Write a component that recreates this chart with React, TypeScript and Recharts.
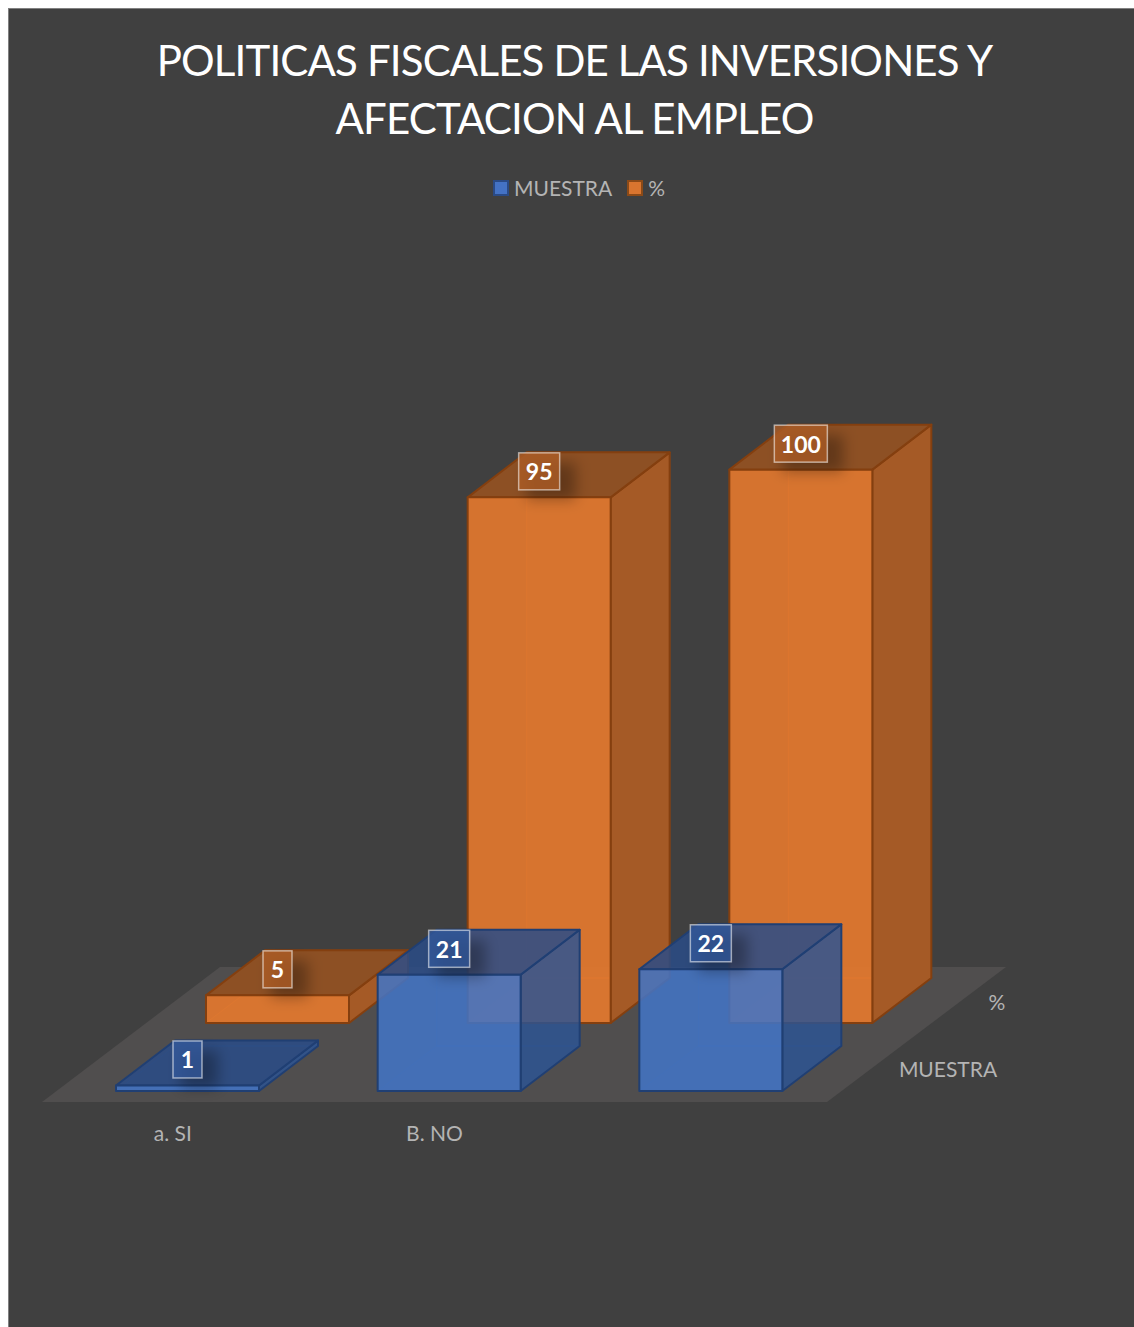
import { BarChart, Bar, XAxis, YAxis, Legend, LabelList, usePlotArea } from "recharts";

const categories = ["a. SI", "B. NO", ""];
const muestra = [1, 21, 22];
const porcentaje = [5, 95, 100];
const titleLines = ["POLITICAS FISCALES DE LAS INVERSIONES Y", "AFECTACION AL EMPLEO"];

const chartData = categories.map((name, i) => ({
  name,
  muestra: muestra[i],
  porcentaje: porcentaje[i],
}));

const WIDTH = 1126;
const HEIGHT = 1319;
const BG = "#404040";

const BAR_W = 143;
const DEPTH_X = 59;
const DEPTH_Y = 45;

// where each row of the 3D floor sits relative to the front edge
const ROW_FRONT = { dx: 15, dy: -11 };
const ROW_BACK = { dx: 105, dy: -79 };

const BLUE = {
  front: "rgba(66,116,198,0.86)",
  side: "rgba(44,84,148,0.82)",
  top: "rgba(42,76,136,0.84)",
  inner: "rgba(47,85,151,0.35)",
  stroke: "#203f73",
  legend: "#4472c4",
  legendStroke: "#2a4a85",
  label: "rgba(52,90,156,0.75)",
};
const ORANGE = {
  front: "rgba(229,121,46,0.9)",
  side: "#a55a26",
  top: "#8d5024",
  inner: "rgba(237,125,49,0.4)",
  stroke: "#843f0f",
  legend: "#d9752f",
  legendStroke: "#8c4a17",
  label: "rgba(172,92,38,0.8)",
};

function Box3D({ x, y, width, height, colors, row }: any) {
  const l = x + row.dx;
  const t = y + row.dy;
  const r = l + width;
  const b = t + height;
  const pts = (list: number[][]) => list.map((p) => p.join(",")).join(" ");
  return (
    <g strokeLinejoin="round">
      {/* hidden back faces show through the translucent front */}
      <polygon
        points={pts([[l + DEPTH_X, t - DEPTH_Y], [r + DEPTH_X, t - DEPTH_Y], [r + DEPTH_X, b - DEPTH_Y], [l + DEPTH_X, b - DEPTH_Y]])}
        fill={colors.inner}
        fillOpacity={0.25}
        stroke={colors.inner}
      />
      <polygon
        points={pts([[l, b], [r, b], [r + DEPTH_X, b - DEPTH_Y], [l + DEPTH_X, b - DEPTH_Y]])}
        fill={colors.inner}
        fillOpacity={0.25}
        stroke={colors.inner}
      />
      <polygon
        points={pts([[r, t], [r + DEPTH_X, t - DEPTH_Y], [r + DEPTH_X, b - DEPTH_Y], [r, b]])}
        fill={colors.side}
        stroke={colors.stroke}
        strokeWidth={2}
      />
      <polygon
        points={pts([[l, t], [r, t], [r + DEPTH_X, t - DEPTH_Y], [l + DEPTH_X, t - DEPTH_Y]])}
        fill={colors.top}
        stroke={colors.stroke}
        strokeWidth={2}
      />
      <rect x={l} y={t} width={width} height={height} fill={colors.front} stroke={colors.stroke} strokeWidth={2} />
    </g>
  );
}

function BoxLabel({ x, y, width, value, colors, row }: any) {
  const text = String(value);
  const w = 17 + text.length * 12;
  const h = 37;
  const cx = x + row.dx + width / 2;
  const cy = y + row.dy - 26;
  return (
    <g>
      <rect x={cx - w / 2 + 8} y={cy - h / 2 + 10} width={w + 8} height={h} fill="rgba(0,0,0,0.3)" filter="url(#labelShadow)" />
      <rect
        x={cx - w / 2}
        y={cy - h / 2}
        width={w}
        height={h}
        fill={colors.label}
        stroke="rgba(255,255,255,0.55)"
        strokeWidth={1.5}
      />
      <text
        x={cx}
        y={cy + 9}
        textAnchor="middle"
        fill="#ffffff"
        fontFamily="Lato"
        fontWeight={700}
        fontSize={23}
      >
        {text}
      </text>
    </g>
  );
}

function Floor() {
  const plot = usePlotArea();
  if (!plot) return null;
  const left = plot.x;
  const right = plot.x + plot.width;
  const bottom = plot.y + plot.height;
  const points = [
    [left, bottom],
    [right, bottom],
    [right + 179, bottom - 135],
    [left + 178, bottom - 135],
  ];
  return (
    <g>
      <polygon points={points.map((p) => p.join(",")).join(" ")} fill="#504e4e" />
      <text x={right + 121} y={bottom - 25} textAnchor="middle" fill="#b4b4b4" fontFamily="Lato" fontSize={21}>
        MUESTRA
      </text>
      <text x={right + 170} y={bottom - 92} textAnchor="middle" fill="#b4b4b4" fontFamily="Lato" fontSize={21}>
        %
      </text>
    </g>
  );
}

function LegendContent({ payload }: any) {
  const items = [...(payload ?? [])].reverse();
  return (
    <div style={{ display: "flex", justifyContent: "center", alignItems: "center", fontFamily: "Lato", fontSize: 21, color: "#b4b4b4" }}>
      {items.map((item: any, i: number) => {
        const colors = item.dataKey === "muestra" ? BLUE : ORANGE;
        return (
          <span key={item.value} style={{ display: "inline-flex", alignItems: "center", marginLeft: i ? 15 : 0 }}>
            <span
              style={{
                width: 12,
                height: 12,
                marginRight: 5,
                background: colors.legend,
                border: `2px solid ${colors.legendStroke}`,
              }}
            />
            {item.value}
          </span>
        );
      })}
    </div>
  );
}

export default function App() {
  return (
    <div
      style={{
        position: "relative",
        width: WIDTH,
        height: HEIGHT,
        background: BG,
        borderTop: "1px solid #808080",
        borderLeft: "1px solid #808080",
        boxSizing: "border-box",
      }}
    >
      {/* the panel runs off the right and bottom of the page */}
      <style>{"body { margin: 8px 0 0 8px; }"}</style>
      <div
        style={{
          position: "absolute",
          left: 0,
          top: 22,
          width: 1131,
          textAlign: "center",
          color: "#ffffff",
          fontFamily: "Lato",
          fontSize: 42,
          letterSpacing: -0.85,
          lineHeight: "58px",
        }}
      >
        {titleLines.map((line) => (
          <div key={line}>{line}</div>
        ))}
      </div>
      <BarChart
        width={WIDTH - 1}
        height={HEIGHT - 1}
        data={chartData}
        barSize={BAR_W}
        barGap={-BAR_W}
        margin={{ top: 405, right: 307, bottom: 165, left: 33 }}
      >
        <defs>
          <filter id="labelShadow" x="-50%" y="-50%" width="200%" height="200%">
            <feGaussianBlur stdDeviation="7" />
          </filter>
        </defs>
        <Floor />
        <XAxis
          dataKey="name"
          interval={0}
          height={60}
          axisLine={false}
          tickLine={false}
          tickMargin={18}
          tick={{ fill: "#b4b4b4", fontFamily: "Lato", fontSize: 21 }}
        />
        <YAxis hide domain={[0, 120]} />
        <Legend
          verticalAlign="top"
          height={24}
          content={<LegendContent />}
          wrapperStyle={{ position: "absolute", top: 166, left: 0, width: 1140 }}
        />
        <Bar
          dataKey="porcentaje"
          name="%"
          isAnimationActive={false}
          fill={ORANGE.front}
          shape={(p: any) => <Box3D {...p} colors={ORANGE} row={ROW_BACK} />}
        >
          <LabelList dataKey="porcentaje" content={(p: any) => <BoxLabel {...p} colors={ORANGE} row={ROW_BACK} />} />
        </Bar>
        <Bar
          dataKey="muestra"
          name="MUESTRA"
          isAnimationActive={false}
          fill={BLUE.front}
          shape={(p: any) => <Box3D {...p} colors={BLUE} row={ROW_FRONT} />}
        >
          <LabelList dataKey="muestra" content={(p: any) => <BoxLabel {...p} colors={BLUE} row={ROW_FRONT} />} />
        </Bar>
      </BarChart>
    </div>
  );
}
